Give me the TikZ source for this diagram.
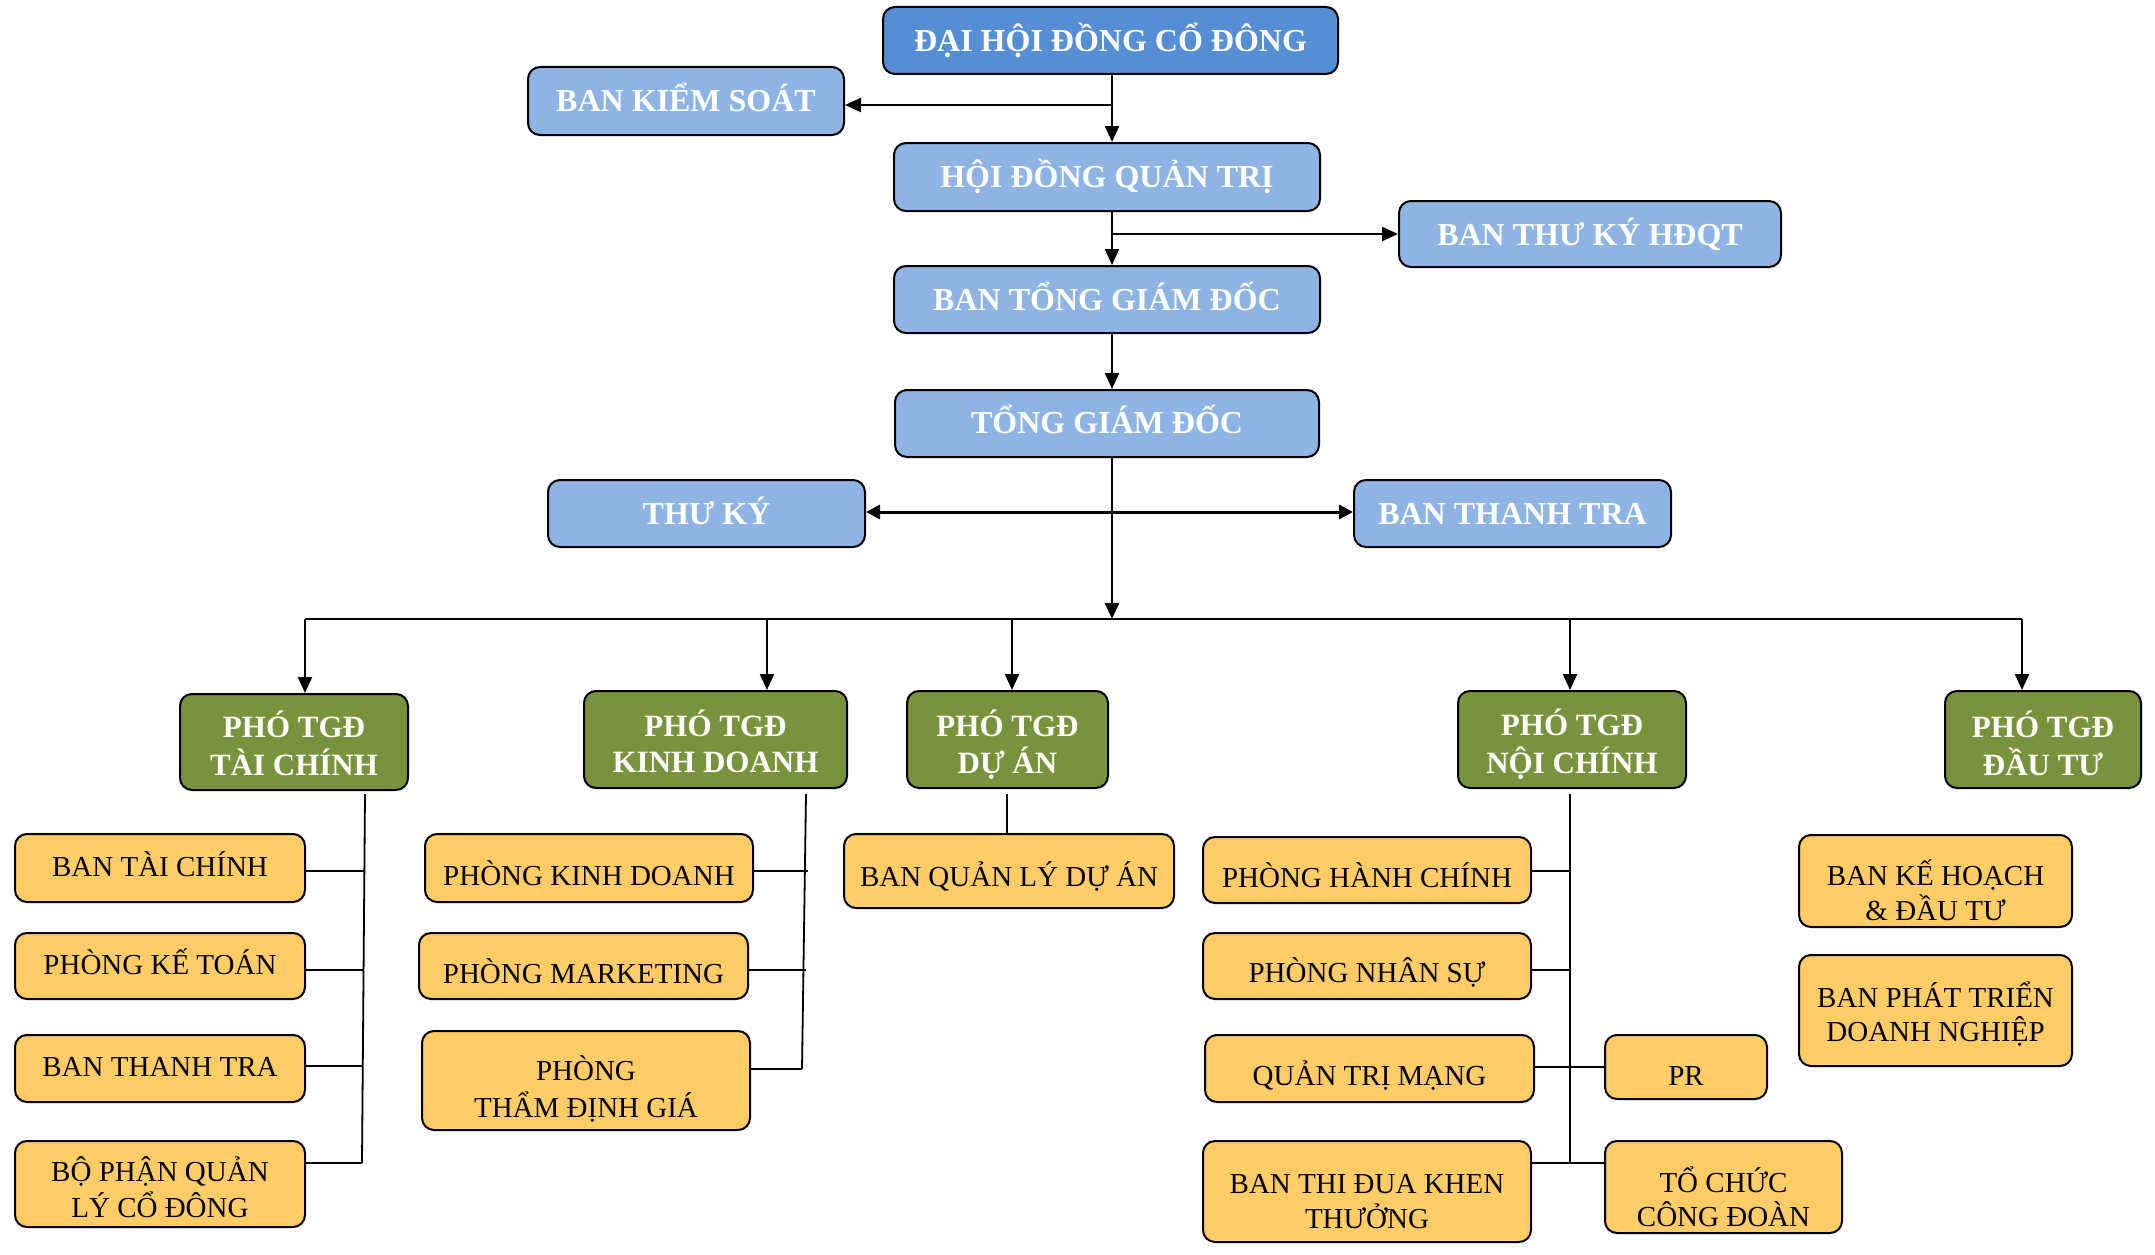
\documentclass[tikz,border=0pt]{standalone}
\usepackage{fontspec}
\setmainfont{Liberation Serif}
\usetikzlibrary{arrows.meta}
\definecolor{dblue}{HTML}{558ED5}
\definecolor{lblue}{HTML}{8EB4E3}
\definecolor{olivebox}{HTML}{77933C}
\definecolor{ybox}{HTML}{FFCC66}
\newcommand\dn[2]{\raisebox{-#1pt}[\height][\depth]{\begin{tabular}{@{}c@{}}#2\end{tabular}}}
\tikzset{
  box/.style={draw=black, line width=2pt, rounded corners=12pt, inner sep=2pt, align=center},
  topbox/.style={box, fill=dblue, text=white, font=\fontsize{32}{36}\selectfont\bfseries},
  bluebox/.style={box, fill=lblue, text=white, font=\fontsize{32}{36}\selectfont\bfseries},
  vpbox/.style={box, fill=olivebox, text=white, font=\fontsize{31}{36}\selectfont\bfseries},
  dept/.style={box, fill=ybox, text=black, font=\fontsize{29}{33}\selectfont},
  arr/.style={line width=2.2pt, -{Triangle[length=16pt,width=14pt]}},
  harr/.style={line width=3pt, -{Triangle[length=14pt,width=14pt]}},
  ln/.style={line width=2.4pt},
  thinln/.style={line width=1.8pt},
}
\begin{document}
\begin{tikzpicture}[x=1pt,y=-1pt]
\useasboundingbox (0,0) rectangle (2155,1255);
% top levels
\node[topbox, minimum width=455pt, minimum height=67pt] (dhd) at (1110.5,40.5) {ĐẠI HỘI ĐỒNG CỔ ĐÔNG};
\node[bluebox, minimum width=316pt, minimum height=68pt] (bks) at (686,101) {\dn{1.5}{BAN KIỂM SOÁT}};
\node[bluebox, minimum width=426pt, minimum height=68pt] (hdqt) at (1107,177) {\dn{1.7}{HỘI ĐỒNG QUẢN TRỊ}};
\node[bluebox, minimum width=382pt, minimum height=66pt] (btk) at (1590,234) {BAN THƯ KÝ HĐQT};
\node[bluebox, minimum width=426pt, minimum height=67pt] (btgd) at (1107,299.5) {\dn{2}{BAN TỔNG GIÁM ĐỐC}};
\node[bluebox, minimum width=424pt, minimum height=67pt] (tgd) at (1107,423.5) {\dn{1}{TỔNG GIÁM ĐỐC}};
\node[bluebox, minimum width=317pt, minimum height=67pt] (thuky) at (706.5,513.5) {\dn{3}{THƯ KÝ}};
\node[bluebox, minimum width=317pt, minimum height=67pt] (btt) at (1512.5,513.5) {BAN THANH TRA};
% vice directors
\node[vpbox, minimum width=228pt, minimum height=96pt] (p1) at (294,742) {\dn{6.5}{PHÓ TGĐ\\TÀI CHÍNH}};
\node[vpbox, minimum width=263pt, minimum height=97pt] (p2) at (715.5,739.5) {\dn{7.5}{PHÓ TGĐ\\KINH DOANH}};
\node[vpbox, minimum width=201pt, minimum height=97pt] (p3) at (1007.5,739.5) {\dn{7.4}{PHÓ TGĐ\\DỰ ÁN}};
\node[vpbox, minimum width=228pt, minimum height=97pt] (p4) at (1572,739.5) {\dn{7.4}{PHÓ TGĐ\\NỘI CHÍNH}};
\node[vpbox, minimum width=196pt, minimum height=97pt] (p5) at (2043,739.5) {\dn{9}{PHÓ TGĐ\\ĐẦU TƯ}};
% column 1
\node[dept, minimum width=290pt, minimum height=68pt] (c1a) at (160,868) {\dn{1}{BAN TÀI CHÍNH}};
\node[dept, minimum width=290pt, minimum height=66pt] (c1b) at (160,966) {\dn{1}{PHÒNG KẾ TOÁN}};
\node[dept, minimum width=290pt, minimum height=67pt] (c1c) at (160,1068.5) {\dn{1}{BAN THANH TRA}};
\node[dept, minimum width=290pt, minimum height=86pt] (c1d) at (160,1184) {\dn{8}{BỘ PHẬN QUẢN\\LÝ CỔ ĐÔNG}};
% column 2
\node[dept, minimum width=328pt, minimum height=68pt] (c2a) at (589,868) {\dn{9.5}{PHÒNG KINH DOANH}};
\node[dept, minimum width=329pt, minimum height=66pt] (c2b) at (583.5,966) {\dn{9.5}{PHÒNG MARKETING}};
\node[dept, minimum width=328pt, minimum height=99pt] (c2c) at (586,1080.5) {\dn{11}{PHÒNG\\[2pt]THẨM ĐỊNH GIÁ}};
% column 3
\node[dept, minimum width=330pt, minimum height=74pt] (c3) at (1009,871) {\dn{8}{BAN QUẢN LÝ DỰ ÁN}};
% column 4
\node[dept, minimum width=328pt, minimum height=66pt] (c4a) at (1367,870) {\dn{9.5}{PHÒNG HÀNH CHÍNH}};
\node[dept, minimum width=328pt, minimum height=66pt] (c4b) at (1367,966) {\dn{9}{PHÒNG NHÂN SỰ}};
\node[dept, minimum width=329pt, minimum height=67pt] (c4c) at (1369.5,1068.5) {\dn{10}{QUẢN TRỊ MẠNG}};
\node[dept, minimum width=328pt, minimum height=101pt] (c4d) at (1367,1191.5) {\dn{13}{BAN THI ĐUA KHEN\\THƯỞNG}};
\node[dept, minimum width=162pt, minimum height=64pt] (c4e) at (1686,1067) {\dn{12}{PR}};
\node[dept, minimum width=237pt, minimum height=92pt] (c4f) at (1723.5,1187) {\dn{14.5}{TỔ CHỨC\\CÔNG ĐOÀN}};
% column 5
\node[dept, minimum width=273pt, minimum height=92pt] (c5a) at (1935.5,881) {\dn{14}{BAN KẾ HOẠCH\\\& ĐẦU TƯ}};
\node[dept, minimum width=273pt, minimum height=111pt] (c5b) at (1935.5,1010.5) {\dn{6}{BAN PHÁT TRIỂN\\DOANH NGHIỆP}};
% connectors top
\coordinate (j1) at (1112,105);
\coordinate (j2) at (1112,234);
\coordinate (j3) at (1112,512);
\coordinate (bus) at (1112,619);
\draw[arr] (dhd.south -| j1) -- (hdqt.north -| j1);
\draw[arr] (j1) -- (j1 -| bks.east);
\draw[arr] (hdqt.south -| j2) -- (btgd.north -| j2);
\draw[arr] (j2) -- (j2 -| btk.west);
\draw[arr] (btgd.south -| j2) -- (tgd.north -| j2);
\draw[arr] (tgd.south -| j3) -- (bus);
\draw[harr] (j3) -- (j3 -| thuky.east);
\draw[harr] (j3) -- (j3 -| btt.west);
% bus
\coordinate (b1) at (305,619);
\coordinate (b2) at (767,619);
\coordinate (b3) at (1012,619);
\coordinate (b4) at (1570,619);
\coordinate (b5) at (2022,619);
\draw[ln] (b1) -- (b5);
\draw[arr] (b1) -- (b1 |- p1.north);
\draw[arr] (b2) -- (b2 |- p2.north);
\draw[arr] (b3) -- (b3 |- p3.north);
\draw[arr] (b4) -- (b4 |- p4.north);
\draw[arr] (b5) -- (b5 |- p5.north);
% column 1 lines
\coordinate (v1t) at (365,794);
\coordinate (v1b) at (362,1163);
\draw[thinln] (v1t) -- (v1b);
\draw[thinln] (c1a.east |- 0,871) -- (364.4,871);
\draw[thinln] (c1b.east |- 0,970) -- (363.6,970);
\draw[thinln] (c1c.east |- 0,1066) -- (362.8,1066);
\draw[thinln] (c1d.east |- v1b) -- (v1b);
% column 2 lines
\coordinate (v2t) at (806,794);
\coordinate (v2b) at (802,1069);
\draw[thinln] (v2t) -- (v2b);
\draw[thinln] (c2a.east |- 0,871) -- (808,871);
\draw[thinln] (c2b.east |- 0,970) -- (806,970);
\draw[thinln] (c2c.east |- v2b) -- (v2b);
% column 3 line
\coordinate (v3t) at (1007,794);
\draw[thinln] (v3t) -- (v3t |- c3.north);
% column 4 lines
\coordinate (v4t) at (1570,794);
\coordinate (v4b) at (1570,1163);
\draw[thinln] (v4t) -- (v4b);
\draw[thinln] (c4a.east |- 0,871) -- (1570,871);
\draw[thinln] (c4b.east |- 0,970) -- (1570,970);
\draw[thinln] (c4c.east |- 0,1067) -- (c4e.west |- 0,1067);
\draw[thinln] (c4d.east |- v4b) -- (c4f.west |- v4b);
\end{tikzpicture}
\end{document}
